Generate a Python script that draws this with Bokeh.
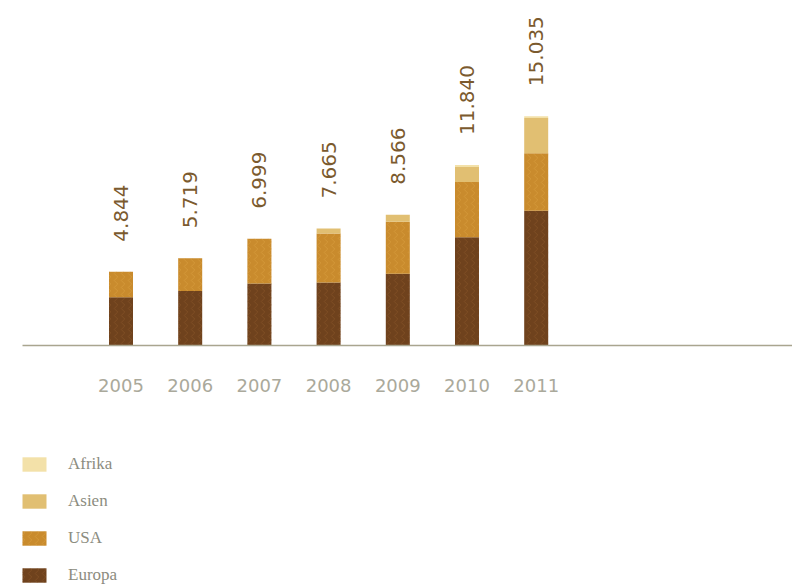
import math
from bokeh.plotting import figure
from bokeh.models import ColumnDataSource, Range1d, Legend, LegendItem
from bokeh.core.properties import value
from bokeh.embed import file_html
from bokeh.resources import INLINE

# ---- data ----
years = ["2005", "2006", "2007", "2008", "2009", "2010", "2011"]
europa = [3.16, 3.57, 4.06, 4.13, 4.71, 7.10, 8.84]
usa = [1.68, 2.15, 2.94, 3.21, 3.40, 3.62, 3.76]
asien = [0.0, 0.0, 0.0, 0.33, 0.46, 0.99, 2.31]
afrika = [0.0, 0.0, 0.0, 0.0, 0.0, 0.13, 0.13]
total_labels = ["4.844", "5.719", "6.999", "7.665", "8.566", "11.840", "15.035"]
series = ["Europa", "USA", "Asien", "Afrika"]
colors = ["#6f421d", "#c98b2d", "#e1bf72", "#f3e1a9"]
grain = ["#8a5628", "#daa040", "#e8c880", "#f3e1a9"]

# ---- layout (pixels) ----
W, H = 792, 585
X0_PX, STEP_PX = 120.5, 69.2      # first bar centre, bar pitch
BASE_PX, UNIT_PX = 345, 15.25     # baseline from top, pixels per unit
BAR_PX = 24

x_start = -X0_PX / STEP_PX
x_end = (W - X0_PX) / STEP_PX
y_start = -(H - BASE_PX) / UNIT_PX
y_end = BASE_PX / UNIT_PX

xs = list(range(len(years)))
totals = [e + u + a + f for e, u, a, f in zip(europa, usa, asien, afrika)]

src = ColumnDataSource(dict(x=xs, Europa=europa, USA=usa, Asien=asien, Afrika=afrika))

p = figure(width=W, height=H, x_range=Range1d(x_start, x_end), y_range=Range1d(y_start, y_end),
           output_backend="svg", toolbar_location=None, min_border=0,
           x_axis_location=None, y_axis_location=None, outline_line_color=None)
p.grid.visible = False
p.background_fill_color = "white"
p.border_fill_color = "white"

rs = p.vbar_stack(series, x="x", width=BAR_PX / STEP_PX, color=colors, line_color=None,
                  hatch_pattern=["vertical_wave", "vertical_wave", "blank", "blank"],
                  hatch_color=grain, hatch_alpha=0.55, hatch_scale=7, hatch_weight=1,
                  source=src)

# baseline
p.segment(x0=[x_start + 22 / STEP_PX], y0=[0], x1=[x_end], y1=[0], line_color="#a9a58f", line_width=1.5)

# totals rotated above bars
lab_src = ColumnDataSource(dict(x=xs, y=[t + 30 / UNIT_PX for t in totals], text=total_labels))
p.text(x="x", y="y", text="text", source=lab_src, angle=math.pi / 2, text_align="left",
       text_baseline="middle", text_font=value("DejaVu Sans"), text_font_size="20px",
       text_color="#7b5a2e")

# year labels
yr_src = ColumnDataSource(dict(x=xs, y=[-40 / UNIT_PX] * len(xs), text=years))
p.text(x="x", y="y", text="text", source=yr_src, text_align="center", text_baseline="middle",
       text_font=value("DejaVu Sans"), text_font_size="18px", text_color="#aaa99b")

legend = Legend(items=[LegendItem(label=s, renderers=[r]) for s, r in zip(series[::-1], rs[::-1])],
                location=(19, 0), orientation="vertical", glyph_width=30, glyph_height=18,
                label_standoff=19, spacing=17, padding=0, margin=0,
                label_text_font="Liberation Serif", label_text_font_size="17px",
                label_text_color="#8c8c80", border_line_color=None, background_fill_alpha=0)
p.add_layout(legend, "center")

open("out.html", "w").write(file_html(p, INLINE))
